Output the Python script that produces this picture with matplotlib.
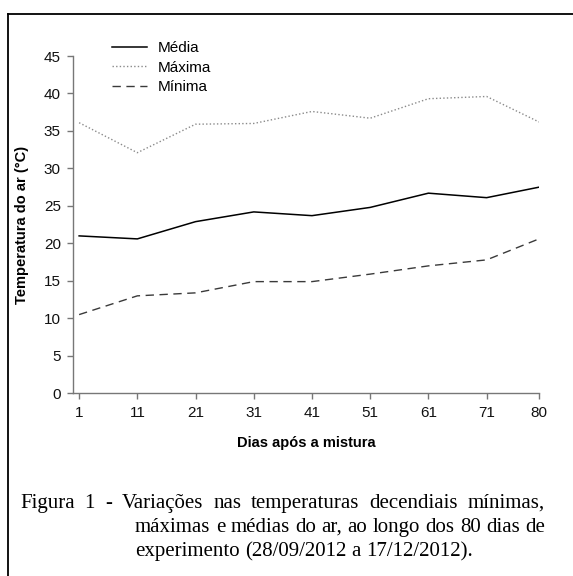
import matplotlib.pyplot as plt
from matplotlib.lines import Line2D

# dados
dias = [1, 11, 21, 31, 41, 51, 61, 71, 80]
media = [21.0, 20.6, 22.9, 24.2, 23.7, 24.8, 26.7, 26.1, 27.5]
maxima = [36.1, 32.1, 35.9, 36.0, 37.6, 36.7, 39.3, 39.6, 36.2]
minima = [10.5, 13.0, 13.4, 14.9, 14.9, 15.9, 17.0, 17.8, 20.6]
xticks = [1, 11, 21, 31, 41, 51, 61, 71, 80]
yticks = list(range(0, 50, 5))

W, H = 573, 576
fig = plt.figure(figsize=(W / 100, H / 100), dpi=100)
fig.patch.set_facecolor('white')

def fx(x):
    return x / W

def fy(y):
    return 1 - y / H

ax = fig.add_axes([fx(73.3), fy(393.3), fx(539) - fx(73.3), (393.3 - 56) / H])

ax.plot(dias, media, color='black', lw=1.1, label='Média')
ax.plot(dias, maxima, color='#8a8a8a', lw=1.0, dashes=(1, 1.6), label='Máxima')
ax.plot(dias, minima, color='#3a3a3a', lw=1.0, dashes=(6, 4), label='Mínima')

ax.set_xlim(0, 80)
ax.set_ylim(0, 45)
ax.set_xticks(xticks)
ax.set_yticks(yticks)

for s in ['top', 'right']:
    ax.spines[s].set_visible(False)
for s in ['left', 'bottom']:
    ax.spines[s].set_color('#777777')
    ax.spines[s].set_linewidth(1.0)
ax.tick_params(direction='out', length=4, width=1, color='#777777',
               labelsize=11, labelcolor='#111111', pad=5)
for lab in ax.get_xticklabels() + ax.get_yticklabels():
    lab.set_family('Liberation Sans')

fig.text(fx(306), fy(443), 'Dias após a mistura', ha='center', va='center',
         fontsize=10.5, fontweight='bold', family='Liberation Sans')
fig.text(fx(22), fy(224.6), 'Temperatura do ar (°C)', ha='center', va='center',
         rotation=90, fontsize=10.5, fontweight='bold', family='Liberation Sans')

leg = ax.legend(loc='upper left', bbox_to_anchor=(fx(112), fy(41)),
                bbox_transform=fig.transFigure, frameon=False,
                prop={'family': 'Liberation Sans', 'size': 11},
                handlelength=2.3, handletextpad=0.7, labelspacing=0.37,
                borderpad=0, borderaxespad=0)

# moldura da figura (só topo e lado esquerdo visíveis)
fig.add_artist(Line2D([fx(8), 1], [fy(14), fy(14)], color='black', lw=1.3,
                      transform=fig.transFigure))
fig.add_artist(Line2D([fx(8), fx(8)], [fy(14), 0], color='black', lw=1.3,
                      transform=fig.transFigure))

# legenda da figura, justificada
renderer = fig.canvas.get_renderer()
tam = 15
cap_font = dict(family='Liberation Serif', fontsize=tam, color='black')

def linha(palavras, x0, x1, y, justificar=True):
    txts = [fig.text(0, fy(y), p, va='baseline', ha='left', **cap_font)
            for p in palavras]
    larg = [t.get_window_extent(renderer).width for t in txts]
    if justificar and len(txts) > 1:
        gap = (x1 - x0 - sum(larg)) / (len(txts) - 1)
    else:
        gap = 0.25 * tam * 100 / 72
    x = x0
    for t, w in zip(txts, larg):
        t.set_x(fx(x))
        x += w + gap

linha('Figura 1 - Variações nas temperaturas decendiais mínimas,'.split(),
      20, 545, 508)
linha('máximas e médias do ar, ao longo dos 80 dias de'.split(),
      135, 545, 532)
linha('experimento (28/09/2012 a 17/12/2012).'.split(),
      135, 545, 556, justificar=False)

fig.savefig('out.png', dpi=100)
